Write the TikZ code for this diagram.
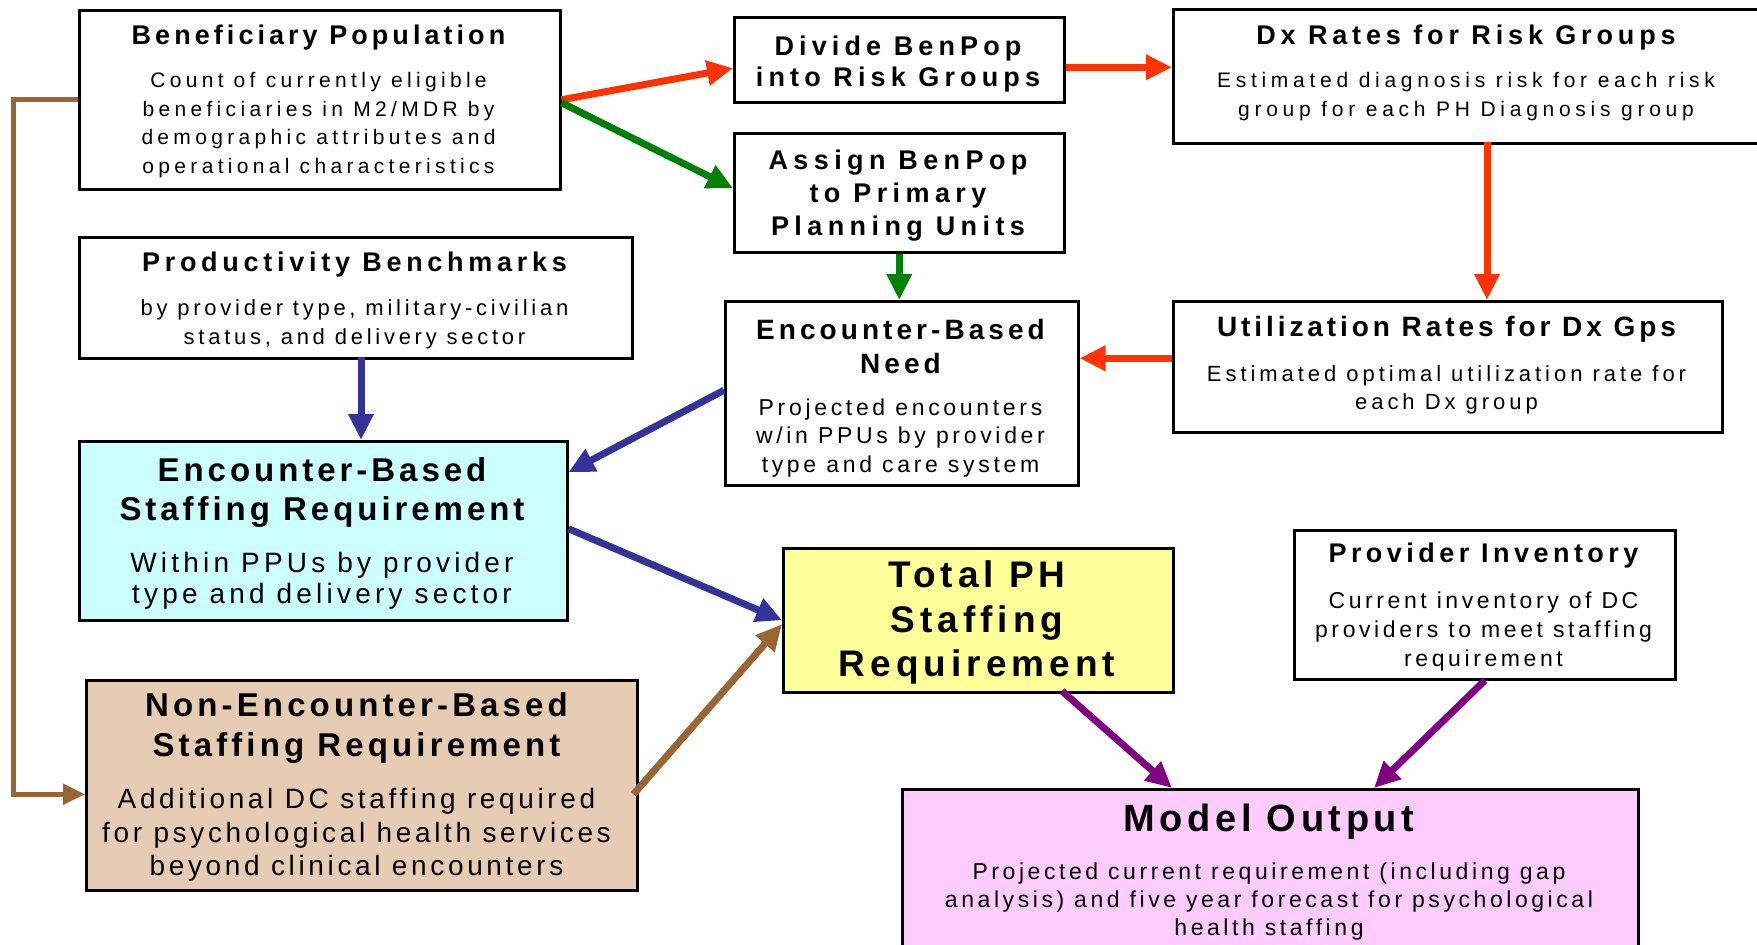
\documentclass[tikz,border=0pt]{standalone}
\usepackage{fontspec}
\setmainfont{Liberation Sans}
\usetikzlibrary{arrows.meta}
\definecolor{cRed}{HTML}{FF3300}
\definecolor{cGreen}{HTML}{008000}
\definecolor{cBlue}{HTML}{333399}
\definecolor{cBrown}{HTML}{996633}
\definecolor{cPurple}{HTML}{800080}
\definecolor{cCyan}{HTML}{CCFFFF}
\definecolor{cYellow}{HTML}{FFFF99}
\definecolor{cTan}{HTML}{E6CCB2}
\definecolor{cPink}{HTML}{FFCCFF}
\newcommand\fsz[3]{\fontsize{#1}{#2}\selectfont\addfontfeatures{LetterSpace=#3}}
\tikzset{
  box/.style={draw=black, line width=2.5pt, fill=white, inner sep=0pt, anchor=north west},
  txt/.style={align=center, inner sep=0pt, text=black},
  arr/.style={line width=7pt, -{Triangle[length=26pt,width=24pt]}},
}
\begin{document}
\begin{tikzpicture}[x=1pt,y=-1pt]
\useasboundingbox (0,0) rectangle (1757,945);
\fill[white] (0,0) rectangle (1757,945);
% boxes
\node[box, minimum width=481pt, minimum height=179pt] (bp) at (78,9) {};
\node[box, minimum width=330pt, minimum height=85pt] (dv) at (733,16) {};
\node[box, minimum width=590pt, minimum height=134pt] (dx) at (1172,8) {};
\node[box, minimum width=330pt, minimum height=119pt] (as) at (733,132) {};
\node[box, minimum width=553pt, minimum height=121pt] (pb) at (78,236) {};
\node[box, minimum width=353pt, minimum height=184pt] (en) at (724,300) {};
\node[box, minimum width=549pt, minimum height=131pt] (ut) at (1172,300) {};
\node[box, fill=cCyan, minimum width=488pt, minimum height=179pt] (es) at (78,440) {};
\node[box, fill=cYellow, minimum width=390pt, minimum height=144pt] (tp) at (782,547) {};
\node[box, minimum width=381pt, minimum height=149pt] (pi) at (1293,529) {};
\node[box, fill=cTan, minimum width=551pt, minimum height=210pt] (ne) at (85,679) {};
\node[box, fill=cPink, minimum width=736pt, minimum height=180pt] (mo) at (901,788) {};
% texts
\node[txt, font=\bfseries\fsz{27}{31}{15}] (bpT) at (318.5,37.2) {Beneficiary Population};
\node[txt, font=\fsz{21}{28.7}{20.6}] (bpB) at (318.5,125.2) {Count of currently eligible\\beneficiaries in M2/MDR by\\demographic attributes and\\operational characteristics};
\node[txt, font=\bfseries\fsz{27}{31.4}{19}] (dvT) at (898,64.1) {Divide BenPop\\into Risk Groups};
\node[txt, font=\bfseries\fsz{27}{31}{18}] (dxT) at (1466,37.2) {Dx Rates for Risk Groups};
\node[txt, font=\fsz{21}{29}{22.5}] (dxB) at (1466,96.6) {Estimated diagnosis risk for each risk\\group for each PH Diagnosis group};
\node[txt, font=\bfseries\fsz{27}{33}{20}] (asT) at (898,195.8) {Assign BenPop\\to Primary\\Planning Units};
\node[txt, font=\bfseries\fsz{27}{31}{17.5}] (pbT) at (354.5,264.7) {Productivity Benchmarks};
\node[txt, font=\fsz{22}{29.2}{17}] (pbB) at (354.5,324.1) {by provider type, military-civilian\\status, and delivery sector};
\node[txt, font=\bfseries\fsz{28}{33.6}{14.5}] (enT) at (900.5,346.5) {Encounter-Based\\Need};
\node[txt, font=\fsz{23}{28.6}{16}] (enB) at (900.5,437.8) {Projected encounters\\w/in PPUs by provider\\type and care system};
\node[txt, font=\bfseries\fsz{28}{31}{14}] (utT) at (1446.5,329.7) {Utilization Rates for Dx Gps};
\node[txt, font=\fsz{22}{28}{18}] (utB) at (1446.5,389.6) {Estimated optimal utilization rate for\\each Dx group};
\node[txt, font=\bfseries\fsz{33}{39.2}{12}] (esT) at (322,492.7) {Encounter-Based\\Staffing Requirement};
\node[txt, font=\fsz{28}{31.4}{15}] (esB) at (322,580.7) {Within PPUs by provider\\type and delivery sector};
\node[txt, font=\bfseries\fsz{37}{44.3}{13.5}] (tpT) at (977,622.7) {Total PH\\Staffing\\Requirement};
\node[txt, font=\bfseries\fsz{27}{31}{16.5}] (piT) at (1483.5,556) {Provider Inventory};
\node[txt, font=\fsz{23}{28.6}{15.6}] (piB) at (1483.5,631.5) {Current inventory of DC\\providers to meet staffing\\requirement};
\node[txt, font=\bfseries\fsz{33}{39.2}{12.5}] (neT) at (356.5,728) {Non-Encounter-Based\\Staffing Requirement};
\node[txt, font=\fsz{28}{33.6}{13}] (neB) at (356.5,835) {Additional DC staffing required\\for psychological health services\\beyond clinical encounters};
\node[txt, font=\bfseries\fsz{38}{40}{12}] (moT) at (1269,821.6) {Model Output};
\node[txt, font=\fsz{23}{28}{15.5}] (moB) at (1269,901.1) {Projected current requirement (including gap\\analysis) and five year forecast for psychological\\health staffing};
% helper coordinates
\coordinate (dvE) at ([yshift=-7.5pt]dv.east);
\coordinate (dxS) at (1487,142);
\coordinate (utW) at ([yshift=8.5pt]ut.west);
\coordinate (pbS) at (361,357);
\coordinate (tpS) at (1062,691);
\coordinate (moA) at (1172,788);
\coordinate (moB2) at (1374,788);
% arrows
\draw[arr, cRed] (bp.east) -- ([yshift=-8.5pt]dv.west);
\draw[arr, cGreen] ([yshift=-3pt]bp.east) -- ([yshift=4.5pt]as.west);
\draw[arr, cRed] (dvE) -- (dvE -| dx.west);
\draw[arr, cRed] (dxS) -- (dxS |- ut.north);
\draw[arr, cGreen] (as.south) -- (as.south |- en.north);
\draw[arr, cRed] (utW) -- (utW -| en.east);
\draw[arr, cBlue] (pbS) -- (pbS |- es.north);
\draw[arr, cBlue] ([yshift=3pt]en.west) -- ([yshift=58.5pt]es.east);
\draw[arr, cBlue] ([yshift=2pt]es.east) -- (tp.west);
\draw[arr, cBrown] ([xshift=-5pt,yshift=-9pt]ne.east) -- ([yshift=-4pt]tp.west);
\draw[arr, cPurple] (tpS) -- (moA);
\draw[arr, cPurple] (pi.south) -- (moB2);
\draw[cBrown, line width=5pt, -{Triangle[length=22pt,width=20pt]}] (bp.west) -- ++(-65,0) |- ([yshift=-9pt]ne.west);
\end{tikzpicture}
\end{document}
